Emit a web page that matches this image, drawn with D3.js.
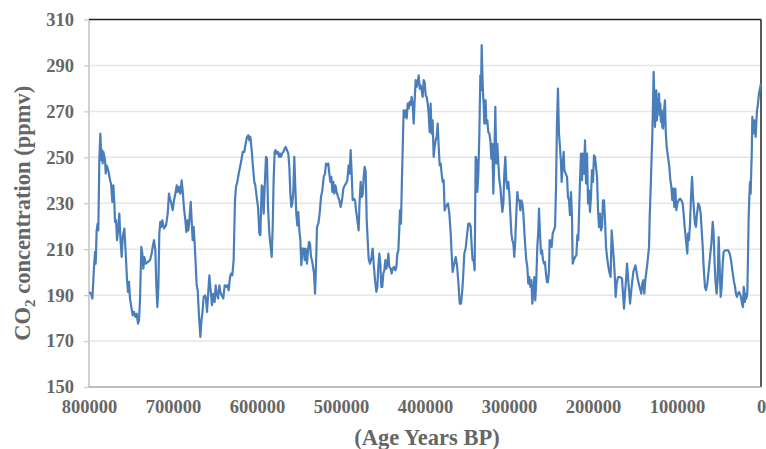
<!DOCTYPE html>
<html lang="en">
<head>
<meta charset="utf-8">
<script src="https://d3js.org/d3.v7.min.js"></script>
<style>
  body { margin: 0; background: #fff; }
  text {
    font-family: "Liberation Serif", "Times New Roman", serif;
    font-weight: bold;
    fill: #666;
  }
</style>
</head>
<body>
<svg id="chart" width="766" height="449"></svg>
<script>
// age in thousands of years before present
var ageKyr = [
  799.6,797.6,796.0,794.0,792.8,792.0,790.9,789.7,788.9,787.7,786.5,785.3,784.5,783.7,782.9,780.9,780.1,779.4,778.2,776.6,
  775.0,773.8,772.2,771.0,769.8,769.0,767.8,766.6,765.1,763.9,762.7,761.1,759.9,757.9,756.3,754.8,753.6,752.4,751.2,749.6,
  748.0,746.4,744.8,743.2,741.7,740.5,739.3,737.7,736.5,735.3,734.1,732.5,730.1,727.4,725.4,724.2,722.6,721.0,719.8,718.6,
  717.4,716.3,715.1,713.9,712.7,710.7,708.3,706.3,704.8,703.6,702.0,700.4,698.8,697.2,695.6,694.4,692.9,691.3,689.7,688.5,
  686.9,685.3,684.1,682.9,681.7,680.5,678.9,677.8,676.6,675.4,674.2,673.0,671.8,670.6,669.0,667.4,666.3,664.7,663.5,661.9,
  660.7,659.5,657.9,656.7,655.2,653.6,652.0,650.4,649.2,648.0,646.4,644.8,643.6,642.1,640.1,638.5,636.9,635.3,633.7,632.1,
  630.9,629.4,627.8,626.2,625.0,623.4,621.8,620.2,618.6,617.0,615.1,613.5,611.9,610.3,609.1,607.9,606.3,604.8,603.2,602.0,
  600.4,598.8,597.2,596.0,594.4,593.3,592.1,590.5,589.3,588.1,586.9,585.3,583.7,582.5,581.3,580.2,579.0,577.8,576.6,575.0,
  573.8,572.6,571.4,570.2,568.6,567.1,565.9,564.3,562.7,561.5,560.3,559.1,557.9,556.7,555.6,554.4,553.2,552.0,550.8,549.6,
  548.4,547.2,546.0,544.4,543.3,542.1,540.5,539.3,538.1,536.9,535.7,534.5,533.3,532.1,530.9,529.8,528.6,527.0,525.4,523.8,
  522.2,520.6,519.0,517.9,516.7,515.1,513.9,512.7,511.5,510.3,509.1,507.9,506.7,505.1,503.6,502.0,500.4,498.8,497.2,495.6,
  494.0,492.5,490.9,489.7,488.5,487.3,486.1,484.9,483.3,482.1,480.5,479.0,477.8,476.6,475.4,474.2,473.0,471.8,470.6,469.4,
  468.2,467.1,465.5,463.9,462.3,461.1,459.5,457.9,456.7,455.6,454.4,453.2,452.0,450.8,449.6,448.4,447.2,446.0,444.8,443.6,
  442.5,440.9,439.7,438.5,436.9,435.3,434.1,432.9,431.7,430.5,429.8,428.6,427.4,426.6,425.4,424.2,423.0,421.8,420.6,419.4,
  418.3,417.1,415.9,414.7,413.5,412.3,411.1,409.9,408.7,407.5,406.3,405.2,404.0,402.8,401.6,400.4,399.2,398.0,396.8,395.6,
  394.5,393.3,392.1,390.9,389.7,388.5,387.3,386.1,384.9,383.7,382.5,381.3,380.2,379.0,377.8,376.6,375.4,374.2,372.6,371.0,
  369.4,368.3,367.1,365.9,364.7,363.5,361.9,360.3,358.7,357.1,355.6,354.4,353.2,351.6,350.0,348.4,346.8,345.6,344.4,343.3,
  342.1,340.9,339.7,338.5,337.7,336.5,335.3,334.1,333.3,332.5,331.7,330.9,330.1,329.4,328.6,327.8,327.0,325.8,324.6,323.4,
  322.2,321.0,319.8,318.7,317.5,316.3,315.1,313.9,312.7,311.5,310.3,309.1,307.9,306.7,305.6,304.4,303.2,302.0,300.8,299.6,
  298.4,297.2,296.0,294.8,293.7,292.5,291.3,290.1,288.9,287.7,286.5,285.3,284.1,282.9,281.8,280.6,279.4,278.2,277.0,275.8,
  274.6,273.4,272.2,271.0,269.8,268.7,267.5,266.3,265.1,264.3,263.1,261.9,260.7,259.5,258.3,257.2,256.0,254.8,253.6,252.4,
  251.6,250.4,249.2,248.0,245.2,244.0,242.9,241.7,240.5,239.3,238.1,237.3,236.1,234.9,234.1,232.5,230.9,229.8,228.6,227.4,
  226.2,225.0,224.2,223.0,221.4,219.8,218.6,217.5,216.3,215.1,214.3,213.1,211.9,210.7,209.5,208.3,207.1,205.9,204.8,203.6,
  202.4,201.2,200.0,198.8,197.6,196.4,195.2,194.0,192.9,191.7,190.5,189.3,188.1,186.9,185.7,184.5,183.3,181.7,180.2,179.0,
  177.8,176.6,175.4,174.2,173.0,171.8,170.2,167.9,165.5,163.1,161.9,160.7,159.5,158.3,157.1,155.9,154.8,153.6,152.0,149.6,
  148.4,147.2,145.6,144.0,142.5,141.3,140.1,138.9,137.7,136.5,135.3,134.1,133.3,132.5,131.3,130.2,129.4,128.6,127.8,127.0,
  126.2,125.4,124.6,123.8,123.0,122.2,121.4,120.6,119.9,119.1,118.3,117.5,116.7,115.9,115.1,114.3,113.5,112.3,110.7,109.1,
  107.9,106.7,105.6,104.4,103.2,102.0,100.8,99.6,98.0,96.4,94.8,93.3,92.1,90.9,89.7,88.5,87.7,86.9,85.7,84.5,
  83.3,82.1,80.9,79.8,78.6,77.4,76.2,74.6,73.0,71.8,70.6,69.4,68.3,66.7,65.5,63.9,62.3,60.7,59.1,57.5,
  56.4,55.2,54.0,52.8,51.6,50.4,49.2,48.0,46.8,45.6,44.5,42.9,40.9,38.9,37.3,35.7,34.1,32.5,30.9,29.8,
  28.6,27.4,26.2,25.0,23.8,22.6,21.4,20.6,19.9,19.1,18.3,17.5,16.3,15.5,14.7,13.9,13.1,12.3,11.5,11.1,
  10.3,9.5,8.7,7.9,7.1,6.4,5.6,4.8,4.0,3.2,2.4,1.6,0.8,0.0
];

// CO2 concentration (ppmv), same order as ageKyr
var co2 = [
  191.4,190.6,188.5,202.3,208.8,203.7,218.2,221.1,218.2,248.7,260.3,248.7,253.1,247.3,252.4,248.7,243.0,246.5,245.8,243.6,
  240.0,238.6,230.6,237.8,229.9,221.9,222.6,213.9,219.7,225.5,215.3,206.6,215.3,219.0,208.1,197.2,191.4,195.8,188.5,184.8,
  181.2,182.7,180.5,181.9,177.6,179.0,187.7,211.0,208.1,201.5,206.6,203.7,204.4,205.2,208.1,211.0,213.9,209.5,193.6,184.8,
  193.6,216.8,221.9,219.7,222.6,219.0,220.4,225.5,234.2,232.0,229.9,227.0,231.3,234.2,237.8,234.9,237.1,234.2,240.0,235.6,
  227.7,222.6,217.5,222.6,218.2,222.6,230.6,222.6,213.9,219.7,212.4,203.7,194.3,192.1,180.5,171.8,178.3,183.4,189.2,189.9,
  188.5,182.7,192.1,198.6,192.1,185.6,190.6,187.0,194.3,190.6,188.5,194.3,191.4,189.9,188.5,194.3,193.6,194.3,192.1,197.9,
  199.4,198.6,205.2,231.3,237.1,239.3,242.9,245.8,248.7,252.4,252.4,256.0,258.9,259.6,257.4,258.9,253.1,245.8,239.3,237.8,
  232.8,228.4,216.8,216.1,237.8,237.1,225.5,240.0,250.2,249.4,228.4,216.8,211.0,206.6,219.7,240.0,252.4,253.1,251.6,252.4,
  250.2,251.6,250.2,251.6,252.4,253.8,254.5,253.1,251.6,245.8,234.2,228.4,229.9,235.6,250.2,237.1,225.5,220.4,226.2,218.2,
  213.9,203.0,210.3,210.3,205.2,210.3,203.7,209.5,213.2,212.4,206.6,205.2,202.3,199.4,190.6,202.3,219.7,221.1,225.5,232.8,
  235.6,241.5,242.9,247.3,246.5,247.3,242.9,239.3,241.5,234.9,239.3,234.2,237.8,234.9,232.8,231.3,228.4,231.3,236.4,237.8,
  238.6,240.0,246.5,242.9,253.1,242.9,231.3,232.0,231.3,226.9,222.6,218.2,231.3,239.3,232.8,233.5,241.5,245.8,243.6,222.6,
  213.9,205.9,203.7,205.9,210.3,203.7,196.5,191.4,193.6,202.3,208.1,203.7,193.6,193.6,199.4,200.8,205.2,201.5,203.7,208.1,
  202.3,201.5,199.4,201.5,202.3,200.8,202.3,208.1,209.5,219.7,226.9,221.1,241.5,253.1,270.5,267.6,270.5,266.9,273.4,271.2,
  274.1,272.7,276.3,273.4,264.7,274.8,283.6,280.7,282.8,285.7,279.9,281.4,279.2,276.3,283.6,282.8,277.0,276.3,273.4,269.0,
  261.0,273.4,260.3,266.1,250.2,254.6,257.4,258.9,264.7,254.6,246.5,247.3,242.9,239.3,240.0,226.9,228.4,229.1,229.9,225.5,
  216.8,208.1,200.1,202.3,204.4,206.6,203.0,195.7,186.3,186.3,192.1,199.4,208.1,210.3,216.1,221.1,221.1,219.7,211.0,205.2,
  205.2,200.8,250.2,248.7,234.9,242.9,260.3,285.7,279.2,298.8,286.5,277.7,272.7,264.7,274.8,274.8,264.7,266.1,261.0,260.3,
  257.4,249.4,255.9,234.2,248.7,272.0,247.3,255.9,247.3,240.0,237.1,231.3,226.2,229.9,242.9,250.2,240.0,236.4,239.3,234.2,
  225.5,216.8,213.9,212.4,206.6,213.9,225.5,234.9,231.3,231.3,226.9,231.3,229.9,225.5,218.2,211.0,205.2,202.3,195.0,197.9,
  193.6,196.5,186.3,192.1,197.9,187.7,196.5,211.0,218.2,227.7,216.8,208.1,209.5,205.2,203.7,204.4,199.4,195.7,195.7,200.8,
  213.9,213.9,211.0,216.8,219.7,237.1,264.7,279.9,260.3,254.5,247.3,239.3,247.3,252.4,244.4,242.9,241.5,232.8,231.3,224.8,
  234.9,224.0,203.7,205.2,206.6,207.3,216.1,213.9,229.9,243.6,251.6,240.0,251.6,242.9,257.4,238.6,251.6,229.9,235.6,226.2,
  232.8,244.4,239.3,250.9,250.2,245.8,241.5,227.0,219.7,225.5,218.2,219.7,231.3,231.3,222.6,211.0,206.6,202.3,199.4,197.9,
  218.2,212.4,206.6,199.4,189.2,195.0,197.9,197.9,197.2,184.1,190.6,196.5,203.7,197.9,192.1,186.3,190.6,195.0,200.1,203.0,
  200.8,197.9,195.0,192.8,190.6,195.0,196.5,190.6,196.5,200.1,203.7,208.1,211.0,224.0,237.1,250.2,258.9,273.4,287.2,276.3,
  263.2,276.3,279.2,266.1,274.8,272.0,277.7,268.3,273.4,265.4,270.5,263.2,262.5,266.1,272.0,274.8,261.8,254.5,250.2,245.8,
  240.0,237.1,231.3,236.4,228.4,236.4,227.0,229.9,231.3,232.0,231.3,229.9,225.5,219.7,215.3,211.0,208.1,216.8,213.9,221.1,
  232.8,241.5,232.8,227.0,221.1,219.7,225.5,229.9,228.4,225.5,218.2,211.0,202.3,193.6,192.1,195.0,200.8,206.6,212.4,221.9,
  216.8,203.7,195.0,190.6,196.5,215.3,202.3,189.2,193.6,203.7,208.8,209.5,209.5,209.5,208.1,205.2,200.8,196.5,193.6,190.6,
  189.2,190.6,191.4,190.6,189.2,186.3,184.8,193.6,192.1,187.0,190.6,188.5,190.6,206.6,224.0,232.8,239.3,234.2,245.8,250.2,
  267.6,260.3,263.2,266.1,261.8,258.9,264.7,270.5,272.0,274.8,277.7,279.2,280.7,282.1
];

var yTicks = [150, 170, 190, 210, 230, 250, 270, 290, 310];
var xTicks = [800, 700, 600, 500, 400, 300, 200, 100, 0];   // kyr BP
var xTitle = "(Age Years BP)";

var width = 766;
var height = 449;
var margin = { top: 19.5, right: 5, bottom: 62, left: 89 };
var plotW = width - margin.left - margin.right;
var plotH = height - margin.top - margin.bottom;

var svg = d3.select("#chart");

var x = d3.scaleLinear().domain([800, 0]).range([0, plotW]);
var y = d3.scaleLinear().domain([150, 310]).range([plotH, 0]);

var g = svg.append("g")
    .attr("transform", "translate(" + margin.left + "," + margin.top + ")");

// horizontal gridlines
g.append("g")
    .selectAll("line")
    .data(yTicks.slice(1, -1))
    .enter().append("line")
    .attr("x1", 0)
    .attr("x2", plotW)
    .attr("y1", function (d) { return y(d); })
    .attr("y2", function (d) { return y(d); })
    .attr("stroke", "#e6e6e6")
    .attr("stroke-width", 1.5);

// y axis
var yAxis = g.append("g")
    .call(d3.axisLeft(y).tickValues(yTicks).tickSize(5).tickPadding(10));
yAxis.select(".domain").remove();
yAxis.selectAll(".tick line").attr("stroke", "#cccccc").attr("stroke-width", 1.3);
yAxis.selectAll(".tick text")
    .style("font-size", "18.5px")
    .attr("fill", "#666");

// x axis
var xAxis = g.append("g")
    .attr("transform", "translate(0," + plotH + ")")
    .call(d3.axisBottom(x).tickValues(xTicks).tickSize(0).tickPadding(13)
        .tickFormat(function (d) { return String(d * 1000); }));
xAxis.select(".domain").remove();
xAxis.selectAll(".tick text")
    .style("font-size", "18.5px")
    .attr("fill", "#666");

// frame: grey left/bottom axis lines, dark top/right border
g.append("line")
    .attr("x1", 0).attr("x2", 0).attr("y1", 0).attr("y2", plotH)
    .attr("stroke", "#d0d0d0").attr("stroke-width", 2);
g.append("line")
    .attr("x1", 0).attr("x2", plotW).attr("y1", 0).attr("y2", 0)
    .attr("stroke", "#222").attr("stroke-width", 1.5);
g.append("line")
    .attr("x1", plotW).attr("x2", plotW).attr("y1", 0).attr("y2", plotH)
    .attr("stroke", "#222").attr("stroke-width", 1.5);
g.append("line")
    .attr("x1", 0).attr("x2", plotW).attr("y1", plotH).attr("y2", plotH)
    .attr("stroke", "#a6a6a6").attr("stroke-width", 1.5);

// the record
var points = ageKyr.map(function (a, i) { return [a, co2[i]]; });

var line = d3.line()
    .x(function (d) { return x(d[0]); })
    .y(function (d) { return y(d[1]); });

g.append("path")
    .datum(points)
    .attr("fill", "none")
    .attr("stroke", "#4a7ebb")
    .attr("stroke-width", 2.2)
    .attr("stroke-linejoin", "round")
    .attr("d", line);

// axis titles
svg.append("text")
    .attr("x", margin.left + plotW / 2 + 2)
    .attr("y", 445)
    .attr("text-anchor", "middle")
    .style("font-size", "22.5px")
    .text(xTitle);

var yTitle = svg.append("text")
    .attr("transform", "translate(30," + (margin.top + plotH / 2 + 10) + ") rotate(-90)")
    .attr("text-anchor", "middle")
    .style("font-size", "22.5px");
yTitle.append("tspan").text("CO");
yTitle.append("tspan").text("2").style("font-size", "15px").attr("dy", 5);
yTitle.append("tspan").text(" concentration (ppmv)").attr("dy", -5);
</script>
</body>
</html>
